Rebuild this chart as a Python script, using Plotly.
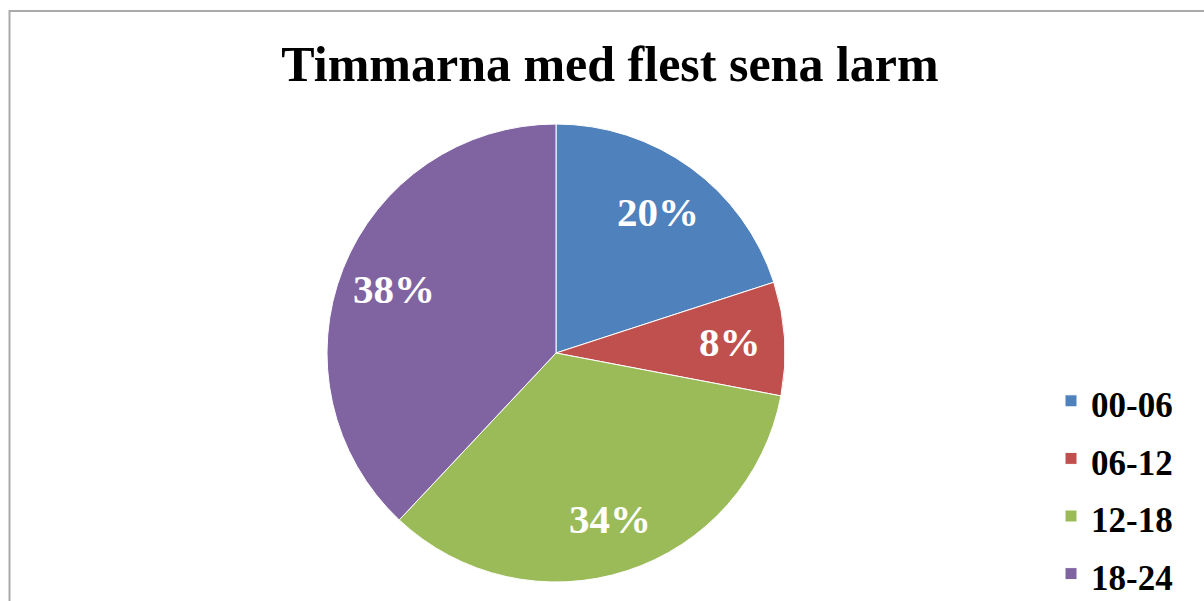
import math
import plotly.graph_objects as go

categories = ["00-06", "06-12", "12-18", "18-24"]
values = [20, 8, 34, 38]
colors = ["#4F81BD", "#C0504D", "#9BBB59", "#8064A2"]
title = "Timmarna med flest sena larm"

W, H = 1204, 601
serif = "Liberation Serif"

cx, cy, r = 556, 353, 229
label_radius = 0.76  # fraction of radius where percent labels sit

legend_labels = ["<span style='font-size:35px'>" + c + "</span>" for c in categories]

fig = go.Figure(go.Pie(
    labels=legend_labels,
    values=values,
    sort=False,
    direction="clockwise",
    rotation=0,
    marker=dict(colors=colors, line=dict(color="white", width=1)),
    textinfo="none",
    domain=dict(x=[(cx - r) / W, (cx + r) / W], y=[(H - cy - r) / H, (H - cy + r) / H]),
    hovertext=categories,
    hoverinfo="text+percent",
))

# percent labels placed at the middle angle of each slice (derived from values)
total = sum(values)
annotations = []
start = 90.0
for v in values:
    sweep = 360.0 * v / total
    mid = math.radians(start - sweep / 2)
    px = cx + label_radius * r * math.cos(mid)
    py = cy - label_radius * r * math.sin(mid)
    annotations.append(dict(
        x=px / W, y=1 - py / H, xref="paper", yref="paper", showarrow=False,
        text="<b>%d%%</b>" % round(100 * v / total),
        font=dict(family=serif, size=41, color="white"),
        xanchor="center", yanchor="middle",
    ))
    start -= sweep

fig.update_layout(
    width=W, height=H,
    margin=dict(l=0, r=0, t=0, b=0, autoexpand=False),
    paper_bgcolor="white",
    plot_bgcolor="white",
    title=dict(text="<b>" + title + "</b>", x=610 / W, xanchor="center", y=1 - 63 / H, yanchor="middle",
               font=dict(family=serif, size=50, color="black")),
    legend=dict(x=1051 / W, xanchor="left", y=1 - 367 / H, yanchor="top",
                font=dict(family=serif, size=42, color="black", weight="bold"),
                bgcolor="rgba(0,0,0,0)"),
    annotations=annotations,
    shapes=[dict(type="rect", xref="paper", yref="paper", x0=9.5 / W, x1=1.05, y0=-0.05, y1=1 - 11 / H,
                 line=dict(color="#AAAAAA", width=2), fillcolor="rgba(0,0,0,0)", layer="below")],
)

fig.write_html("out.html")
